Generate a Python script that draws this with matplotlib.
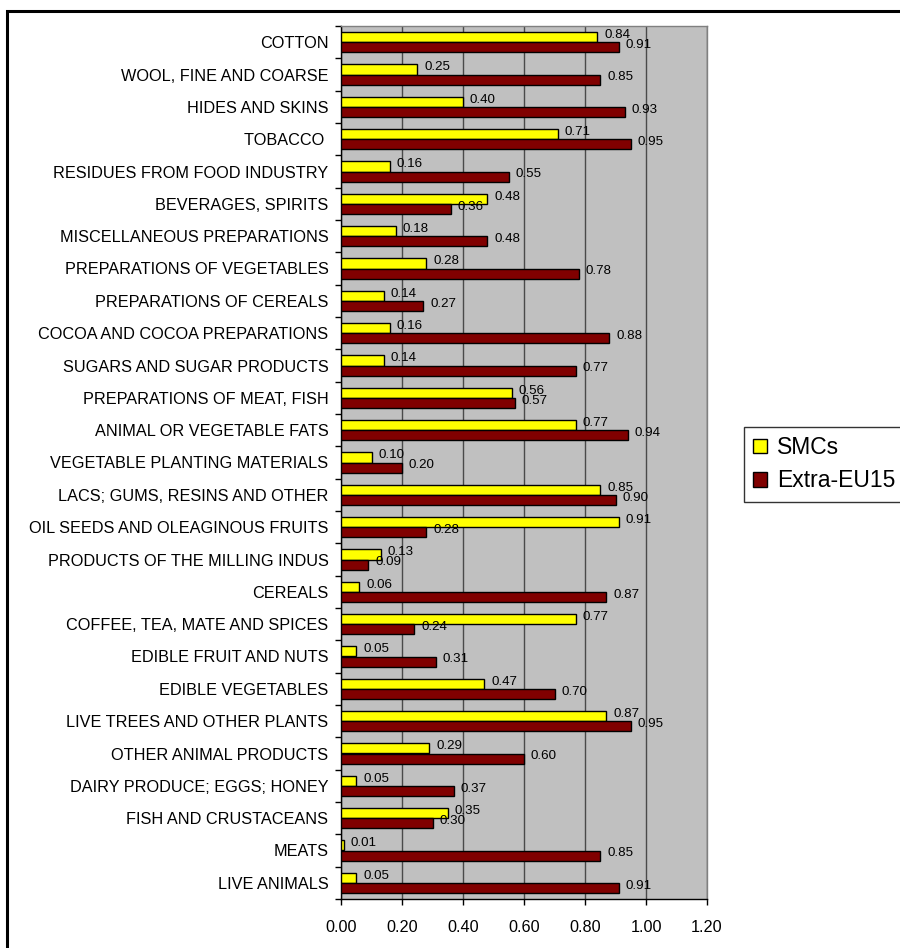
import matplotlib
matplotlib.use("Agg")
import matplotlib.pyplot as plt
from matplotlib.patches import Patch, Rectangle
from matplotlib.ticker import FixedLocator, MultipleLocator
import numpy as np

plt.rcParams['font.family'] = ['Liberation Sans', 'DejaVu Sans']

categories = [
    "COTTON",
    "WOOL, FINE AND COARSE",
    "HIDES AND SKINS",
    "TOBACCO ",
    "RESIDUES FROM FOOD INDUSTRY",
    "BEVERAGES, SPIRITS",
    "MISCELLANEOUS PREPARATIONS",
    "PREPARATIONS OF VEGETABLES",
    "PREPARATIONS OF CEREALS",
    "COCOA AND COCOA PREPARATIONS",
    "SUGARS AND SUGAR PRODUCTS",
    "PREPARATIONS OF MEAT, FISH",
    "ANIMAL OR VEGETABLE FATS",
    "VEGETABLE PLANTING MATERIALS",
    "LACS; GUMS, RESINS AND OTHER",
    "OIL SEEDS AND OLEAGINOUS FRUITS",
    "PRODUCTS OF THE MILLING INDUS",
    "CEREALS",
    "COFFEE, TEA, MATE AND SPICES",
    "EDIBLE FRUIT AND NUTS",
    "EDIBLE VEGETABLES",
    "LIVE TREES AND OTHER PLANTS",
    "OTHER ANIMAL PRODUCTS",
    "DAIRY PRODUCE; EGGS; HONEY",
    "FISH AND CRUSTACEANS",
    "MEATS",
    "LIVE ANIMALS",
]

smcs = [0.84, 0.25, 0.40, 0.71, 0.16, 0.48, 0.18, 0.28, 0.14, 0.16, 0.14,
        0.56, 0.77, 0.10, 0.85, 0.91, 0.13, 0.06, 0.77, 0.05, 0.47, 0.87,
        0.29, 0.05, 0.35, 0.01, 0.05]

extra_eu15 = [0.91, 0.85, 0.93, 0.95, 0.55, 0.36, 0.48, 0.78, 0.27, 0.88, 0.77,
              0.57, 0.94, 0.20, 0.90, 0.28, 0.09, 0.87, 0.24, 0.31, 0.70, 0.95,
              0.60, 0.37, 0.30, 0.85, 0.91]

series_names = ["SMCs", "Extra-EU15"]
series_colors = ["#FFFF00", "#800000"]
x_ticks = [0.0, 0.2, 0.4, 0.6, 0.8, 1.0, 1.2]

W, H = 900, 948
fig = plt.figure(figsize=(W / 100, H / 100), dpi=100)
fig.patch.set_facecolor("white")

# outer chart frame (runs off the right and bottom edges)
frame = Rectangle((7 / W, -0.2), 2.0, 1 - 11 / H + 0.2, transform=fig.transFigure,
                  fill=False, edgecolor="black", linewidth=2.2, clip_on=False)
fig.patches.append(frame)

left, right, top, bottom = 341, 707, 26, 899
ax = fig.add_axes([left / W, 1 - bottom / H, (right - left) / W, (bottom - top) / H])
ax.set_facecolor("#C0C0C0")

n = len(categories)
y = np.arange(n)
bh = 0.31

ax.barh(y - bh / 2, smcs, height=bh, color=series_colors[0],
        edgecolor="black", linewidth=1.0, zorder=3, label=series_names[0])
ax.barh(y + bh / 2, extra_eu15, height=bh, color=series_colors[1],
        edgecolor="black", linewidth=1.0, zorder=3, label=series_names[1])

for yi, v in zip(y - bh / 2, smcs):
    ax.annotate(f"{v:.2f}", xy=(v, yi), xytext=(5, 1.5), textcoords="offset points",
                ha="left", va="center", fontsize=9.6, color="black", zorder=5)
for yi, v in zip(y + bh / 2, extra_eu15):
    ax.annotate(f"{v:.2f}", xy=(v, yi), xytext=(5, 1.5), textcoords="offset points",
                ha="left", va="center", fontsize=9.6, color="black", zorder=5)

ax.set_xlim(0, 1.2)
ax.set_ylim(n - 0.5, -0.5)

ax.set_xticks(x_ticks)
ax.set_xticklabels([f"{t:.2f}" for t in x_ticks], fontsize=11.7)
ax.tick_params(axis="x", direction="out", length=4, width=1, pad=11, color="black")

ax.set_yticks(y)
ax.set_yticklabels(categories, fontsize=11.7)
ax.tick_params(axis="y", which="major", length=0, pad=9)
ax.yaxis.set_minor_locator(FixedLocator(np.arange(-0.5, n, 1.0)))
ax.tick_params(axis="y", which="minor", direction="out", length=4, width=1, color="black")

ax.xaxis.grid(True, color="#4a4a4a", linewidth=1.0, zorder=1)
ax.set_axisbelow(True)

ax.spines["left"].set_color("black")
ax.spines["bottom"].set_color("black")
ax.spines["top"].set_color("#808080")
ax.spines["right"].set_color("#808080")
for s in ax.spines.values():
    s.set_linewidth(1.0)

handles = [Patch(facecolor=c, edgecolor="black", linewidth=1.0) for c in series_colors]
leg = fig.legend(handles, series_names, loc="upper left",
                 bbox_to_anchor=(744 / W, 1 - 427 / H), fontsize=16.5,
                 frameon=True, fancybox=False, shadow=False,
                 handlelength=0.6, handleheight=0.6, handletextpad=0.45,
                 labelspacing=0.45, borderpad=0.4, borderaxespad=0.0)
leg.get_frame().set_edgecolor("black")
leg.get_frame().set_linewidth(1.0)

fig.savefig("out.png", dpi=100, facecolor="white")
